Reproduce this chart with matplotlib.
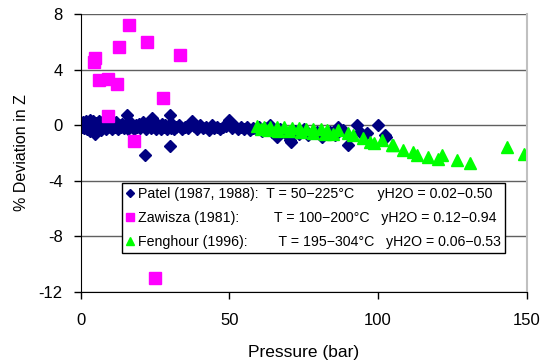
import matplotlib
matplotlib.use("Agg")
import matplotlib.pyplot as plt

plt.rcParams['font.family'] = ['Liberation Sans', 'DejaVu Sans']

# Patel (1987, 1988)
patel_p = [0.3, 0.6, 0.9, 1.2, 1.5, 1.8, 2.1, 2.4, 2.7, 3.0, 3.3, 3.6, 3.9, 4.2, 4.5,
           4.8, 5.0, 5.3, 5.6, 6.0, 6.3, 6.6, 7.0, 7.3, 7.6, 8.0, 8.4, 8.8, 9.2, 9.6,
           10.0, 10.5, 11.0, 11.5, 12.0, 12.5, 13.0, 13.5, 14.0, 14.5, 15.0, 15.5,
           16.0, 16.5, 17.0, 17.5, 18.0, 18.5, 19.0, 19.5, 20.0, 20.5, 21.0, 21.6,
           22.0, 22.5, 23.0, 23.5, 24.1, 24.5, 25.0, 25.5, 26.0, 26.5, 27.0, 27.5,
           28.0, 28.5, 29.0, 29.5, 29.9, 29.9, 30.5, 31.0, 31.5, 32.0, 33.0, 34.0,
           35.0, 36.0, 37.3, 38.0, 39.0, 40.0, 41.0, 42.0, 43.0, 44.0, 45.0, 46.0,
           47.0, 48.0, 49.0, 50.0, 51.0, 52.0, 53.0, 54.0, 55.0, 56.0, 57.0, 58.0,
           59.0, 60.0, 61.0, 62.0, 63.7, 64.5, 65.9, 67.0, 68.0, 69.0, 70.4, 70.6,
           72.0, 73.5, 75.0, 76.5, 78.0, 79.5, 81.0, 82.5, 84.0, 85.5, 86.7, 88.2,
           90.0, 92.8, 94.0, 96.2, 100.1, 102.4, 102.7]
patel_dev = [0.1, -0.1, 0.25, -0.2, 0.0, 0.3, -0.3, 0.1, -0.15, 0.35, -0.4, 0.2,
             -0.05, 0.3, -0.45, -0.65, 0.15, -0.3, 0.05, 0.3, -0.2, 0.1, -0.35, 0.25,
             -0.1, 0.1, -0.3, 0.2, -0.15, 0.0, 0.15, -0.25, 0.05, -0.1, 0.2, -0.3,
             0.0, -0.15, 0.1, -0.2, 0.05, 0.73, -0.25, 0.0, 0.15, -0.1, -0.3, 0.05,
             -0.15, 0.1, -0.2, 0.0, 0.2, -2.14, -0.3, -0.05, 0.1, -0.2, 0.5, -0.1,
             0.05, -0.25, 0.0, -0.1, -0.3, 0.1, -0.15, 0.0, -0.25, -0.05, 0.73,
             -1.52, -0.2, 0.0, -0.3, -0.1, 0.05, -0.25, -0.1, -0.2, 0.3, -0.05,
             -0.3, 0.0, -0.2, -0.1, -0.35, 0.0, -0.2, -0.1, -0.3, -0.15, -0.05,
             0.37, -0.2, -0.05, -0.3, -0.1, -0.25, -0.15, -0.35, -0.2, -0.3, -0.1,
             -0.4, -0.2, 0.0, -0.5, -0.83, -0.3, -0.45, -0.6, -1.06, -1.19, -0.4,
             -0.6, -0.3, -0.7, -0.55, -0.5, -0.83, -0.6, -0.5, -0.7, -0.1, -0.35,
             -1.42, 0.0, -0.5, -0.58, 0.0, -0.7, -0.83]

# Zawisza (1981)
zawisza_p = [4.5, 4.9, 16.2, 12.9, 22.3, 33.3, 6.2, 9.1, 12.2, 27.8, 9.2, 17.8, 25.1]
zawisza_dev = [4.55, 4.86, 7.2, 5.6, 6.0, 5.05, 3.23, 3.3, 2.94, 1.94, 0.68, -1.14, -11.0]

# Fenghour (1996)
fenghour_p = [59.2, 61.6, 63.7, 65.9, 68.4, 71.0, 73.5, 75.8, 78.2, 80.7, 82.7,
              60.5, 63.0, 66.5, 70.0, 74.0, 78.0, 82.0, 85.0,
              86.7, 90.0, 91.7, 95.1, 97.4, 98.5, 101.3, 104.6, 105.2, 108.5,
              111.9, 113.0, 116.9, 120.3, 121.4, 126.5, 131.0, 143.3, 149.1]
fenghour_dev = [-0.05, -0.1, -0.1, -0.15, -0.15, -0.2, -0.2, -0.25, -0.25, -0.3, -0.35,
                -0.3, -0.35, -0.4, -0.45, -0.5, -0.55, -0.6, -0.65,
                -0.35, -0.56, -0.7, -0.92, -1.19, -1.28, -1.06, -1.42, -1.42, -1.78,
                -1.9, -2.12, -2.27, -2.43, -2.14, -2.5, -2.72, -1.55, -2.07]

fig = plt.figure(figsize=(5.44, 3.64), dpi=100)
ax = fig.add_axes([0.1483, 0.1978, 0.8199, 0.7637])

ax.plot(patel_p, patel_dev, 'D', color='#000080', markersize=5.8, linestyle='none',
        label='Patel (1987, 1988):  T = 50\u2212225\u00b0C      yH2O = 0.02\u22120.50')
ax.plot(zawisza_p, zawisza_dev, 's', color='#ff00ff', markersize=8.5, linestyle='none',
        label='Zawisza (1981):         T = 100\u2212200\u00b0C   yH2O = 0.12\u22120.94')
ax.plot(fenghour_p, fenghour_dev, '^', color='#00ff00', markersize=8.5, linestyle='none',
        label='Fenghour (1996):        T = 195\u2212304\u00b0C   yH2O = 0.06\u22120.53')

ax.set_xlim(0, 150)
ax.set_ylim(-12, 8)
ax.set_xticks([0, 50, 100, 150])
ax.set_yticks([-12, -8, -4, 0, 4, 8])
ax.set_yticklabels(['-12', '-8', '-4', '0', '4', '8'])
ax.grid(axis='y', color='#606060', linewidth=1.0)
ax.set_axisbelow(True)
ax.tick_params(labelsize=12, direction='out', length=5, width=1, colors='black')
ax.tick_params(axis='x', pad=10)
ax.tick_params(axis='y', pad=8)
for s in ['left', 'bottom']:
    ax.spines[s].set_color('black')
ax.spines['top'].set_visible(False)
ax.spines['right'].set_color('#c0c0c0')
ax.spines['right'].set_linewidth(1.5)

ax.set_xlabel('Pressure (bar)', fontsize=12.5, labelpad=12)
ax.set_ylabel('% Deviation in Z', fontsize=11.5, labelpad=7)

leg = ax.legend(loc='upper left', bbox_to_anchor=(0.093, 0.392), fontsize=10.2,
                frameon=True, fancybox=False, edgecolor='black', framealpha=1,
                borderaxespad=0, handlelength=0.5, handletextpad=0.3,
                borderpad=0.3, labelspacing=0.7, markerscale=0.75)
leg.get_frame().set_linewidth(1.0)

fig.savefig('out.png', dpi=100)
